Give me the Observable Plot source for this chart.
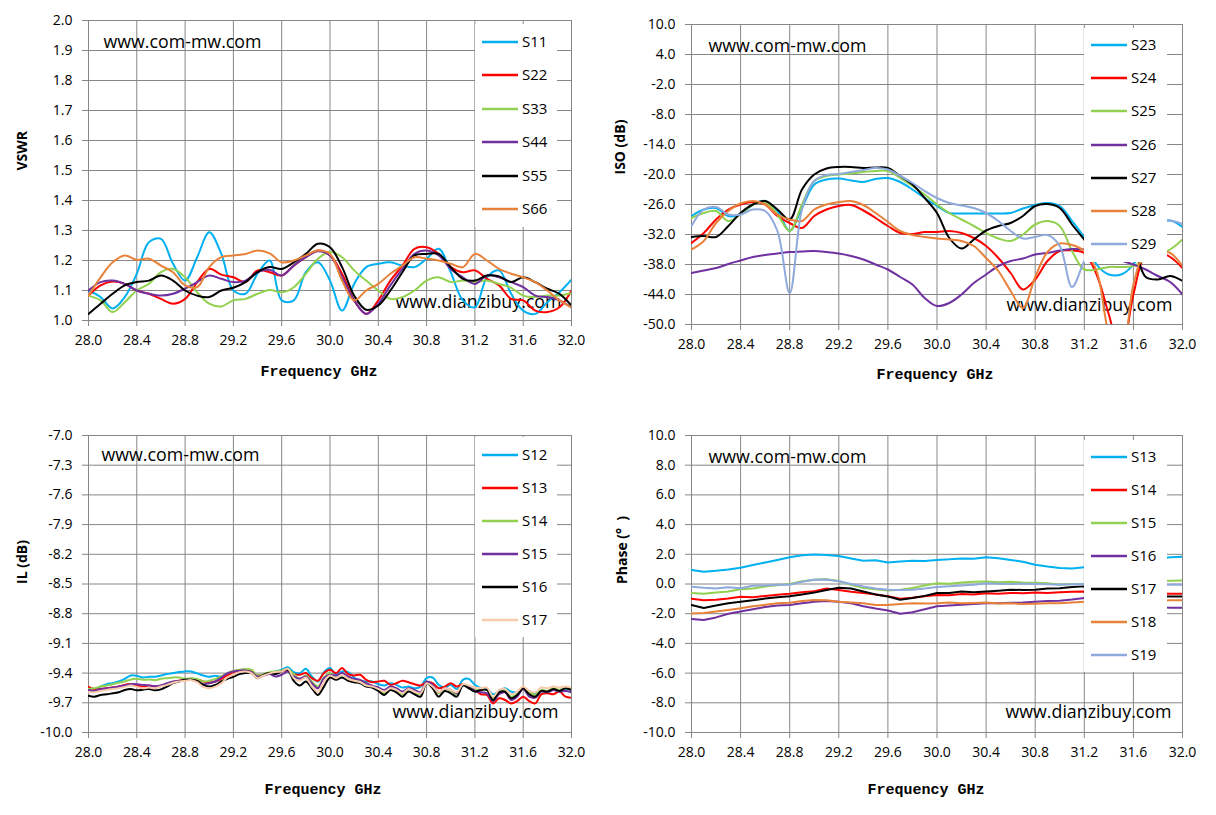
<!DOCTYPE html>
<html><head><meta charset="utf-8">
<script src="https://cdn.jsdelivr.net/npm/d3@7"></script>
<script src="https://cdn.jsdelivr.net/npm/@observablehq/plot@0.6"></script>
<style>
body{margin:0;background:#fff;}
#wrap{position:relative;width:1216px;height:815px;overflow:hidden;background:#fff;font-family:"Open Sans",sans-serif;}
.legend{position:absolute;background:#fff;}
.item{position:absolute;height:20px;}
.item svg{position:absolute;left:0;top:0;}
.item span{position:absolute;top:-1px;font-size:15px;line-height:20px;color:#000;white-space:nowrap;}
</style></head><body><div id="wrap"></div>
<script>
// ---------- shared axes ----------
const freq = [28.0,28.1,28.2,28.3,28.4,28.5,28.6,28.7,28.8,28.9,29.0,29.1,29.2,29.3,29.4,29.5,29.6,29.7,29.8,29.9,30.0,30.1,30.2,30.3,30.4,30.5,30.6,30.7,30.8,30.9,31.0,31.1,31.2,31.3,31.4,31.5,31.6,31.7,31.8,31.9,32.0];
const freqFine = [28.00,28.05,28.10,28.15,28.20,28.25,28.30,28.35,28.40,28.45,28.50,28.55,28.60,28.65,28.70,28.75,28.80,28.85,28.90,28.95,29.00,29.05,29.10,29.15,29.20,29.25,29.30,29.35,29.40,29.45,29.50,29.55,29.60,29.65,29.70,29.75,29.80,29.85,29.90,29.95,30.00,30.05,30.10,30.15,30.20,30.25,30.30,30.35,30.40,30.45,30.50,30.55,30.60,30.65,30.70,30.75,30.80,30.85,30.90,30.95,31.00,31.05,31.10,31.15,31.20,31.25,31.30,31.35,31.40,31.45,31.50,31.55,31.60,31.65,31.70,31.75,31.80,31.85,31.90,31.95,32.00];
const xTicks = [28.0,28.4,28.8,29.2,29.6,30.0,30.4,30.8,31.2,31.6,32.0];
const xLabel = "Frequency GHz";

// ---------- panel 1 : VSWR ----------
const vswrTicks = [1.0,1.1,1.2,1.3,1.4,1.5,1.6,1.7,1.8,1.9,2.0];
const vswrNames = ["S11","S22","S33","S44","S55","S66"];
const S11 = [1.10,1.078,1.04,1.078,1.156,1.261,1.272,1.189,1.133,1.211,1.294,1.222,1.10,1.089,1.156,1.20,1.067,1.067,1.161,1.194,1.133,1.033,1.122,1.178,1.189,1.194,1.183,1.178,1.206,1.239,1.161,1.067,1.044,1.144,1.167,1.089,1.033,1.022,1.061,1.094,1.136];
const S22 = [1.083,1.117,1.13,1.122,1.10,1.089,1.072,1.056,1.072,1.128,1.172,1.153,1.144,1.128,1.167,1.161,1.15,1.183,1.211,1.233,1.217,1.156,1.067,1.022,1.067,1.133,1.183,1.239,1.244,1.222,1.178,1.161,1.167,1.139,1.117,1.072,1.067,1.033,1.028,1.044,1.10];
const S33 = [1.083,1.067,1.028,1.061,1.10,1.122,1.161,1.172,1.144,1.094,1.056,1.047,1.067,1.072,1.089,1.102,1.094,1.111,1.156,1.206,1.228,1.211,1.167,1.133,1.10,1.072,1.078,1.10,1.133,1.144,1.128,1.133,1.128,1.133,1.122,1.109,1.083,1.078,1.083,1.083,1.091];
const S44 = [1.10,1.128,1.133,1.122,1.10,1.089,1.083,1.089,1.106,1.128,1.15,1.139,1.128,1.133,1.161,1.169,1.15,1.183,1.211,1.231,1.217,1.144,1.067,1.022,1.056,1.117,1.172,1.222,1.233,1.217,1.172,1.144,1.122,1.15,1.144,1.128,1.111,1.083,1.078,1.067,1.044];
const S55 = [1.022,1.056,1.089,1.117,1.128,1.133,1.15,1.133,1.10,1.083,1.078,1.10,1.109,1.128,1.161,1.178,1.172,1.194,1.222,1.256,1.244,1.178,1.083,1.036,1.05,1.10,1.161,1.217,1.222,1.222,1.178,1.139,1.133,1.15,1.147,1.128,1.144,1.128,1.106,1.089,1.05];
const S66 = [1.083,1.144,1.194,1.217,1.202,1.206,1.183,1.161,1.117,1.111,1.178,1.211,1.217,1.222,1.233,1.224,1.194,1.20,1.217,1.233,1.222,1.133,1.067,1.10,1.122,1.156,1.183,1.211,1.206,1.20,1.189,1.178,1.222,1.20,1.172,1.156,1.144,1.128,1.10,1.067,1.044];

// ---------- panel 2 : ISO ----------
const isoTicks = [-50,-44,-38,-32,-26,-20,-14,-8,-2,4,10];
const isoNames = ["S23","S24","S25","S26","S27","S28","S29"];
const S23 = [-28.3,-27.0,-26.7,-28.3,-28.0,-26.0,-25.3,-27.3,-31.3,-26.7,-22.0,-21.0,-20.8,-21.2,-21.5,-20.9,-20.7,-21.5,-23.0,-24.7,-26.3,-27.7,-27.8,-27.8,-27.8,-27.8,-27.7,-26.8,-26.1,-25.7,-26.3,-29.3,-32.7,-38.0,-40.0,-40.0,-38.0,-33.0,-30.0,-29.2,-30.5];
const S24 = [-33.7,-31.7,-29.0,-27.0,-26.0,-25.5,-26.0,-28.3,-29.7,-30.7,-28.3,-27.0,-26.3,-26.1,-27.2,-28.7,-30.3,-31.7,-31.9,-31.5,-31.5,-31.3,-31.7,-32.7,-34.3,-36.7,-39.7,-43.0,-41.0,-37.3,-35.3,-35.2,-35.7,-40.0,-48.0,-56.0,-44.0,-36.0,-35.5,-36.5,-38.7];
const S25 = [-28.7,-27.7,-27.3,-29.3,-28.0,-26.0,-25.5,-28.0,-31.3,-26.0,-21.3,-20.3,-20.0,-19.8,-19.5,-19.3,-19.3,-20.7,-22.3,-24.0,-26.0,-27.7,-29.0,-30.3,-31.7,-32.8,-33.3,-32.0,-30.0,-29.3,-30.3,-35.3,-39.0,-39.0,-38.5,-38.5,-38.3,-37.0,-36.0,-35.0,-33.0];
const S26 = [-39.7,-39.2,-38.7,-37.9,-37.2,-36.5,-36.1,-35.8,-35.5,-35.4,-35.3,-35.5,-35.8,-36.3,-37.0,-38.0,-39.0,-40.5,-42.0,-44.7,-46.3,-45.7,-44.0,-41.7,-40.0,-38.3,-37.3,-36.8,-36.0,-35.7,-35.2,-34.9,-35.0,-35.8,-36.5,-37.2,-38.0,-39.0,-40.3,-41.5,-44.0];
const S27 = [-32.5,-32.3,-32.5,-30.3,-27.7,-26.0,-25.3,-27.0,-29.0,-23.0,-20.0,-18.8,-18.5,-18.5,-18.7,-18.6,-18.7,-20.3,-22.0,-24.7,-27.7,-32.7,-34.8,-33.0,-31.2,-30.3,-29.7,-28.3,-26.3,-25.9,-26.7,-30.0,-33.0,-36.0,-36.5,-36.0,-35.5,-40.5,-41.0,-40.3,-41.3];
const S28 = [-35.0,-33.3,-29.7,-27.3,-25.8,-25.3,-26.0,-28.0,-29.0,-29.3,-27.0,-26.0,-25.5,-25.3,-26.1,-27.7,-29.5,-31.3,-32.1,-32.5,-32.8,-33.0,-33.3,-34.3,-36.7,-39.3,-43.3,-46.7,-40.5,-35.5,-33.8,-34.1,-35.3,-39.3,-52.0,-58.0,-42.0,-35.5,-35.3,-35.7,-38.3];
const S29 = [-30.3,-27.0,-26.5,-28.0,-28.0,-27.0,-27.3,-31.3,-43.7,-27.0,-21.3,-20.1,-19.9,-19.5,-19.1,-18.7,-19.0,-20.3,-21.7,-23.3,-24.7,-25.7,-26.2,-26.7,-27.7,-29.3,-31.3,-32.8,-32.5,-32.1,-34.3,-42.5,-37.3,-33.0,-31.0,-30.0,-29.5,-29.3,-29.2,-29.2,-29.9];

// ---------- panel 3 : IL ----------
const ilTicks = [-10.0,-9.7,-9.4,-9.1,-8.8,-8.5,-8.2,-7.9,-7.6,-7.3,-7.0];
const ilNames = ["S12","S13","S14","S15","S16","S17"];
const IL12 = [-9.546,-9.564,-9.536,-9.512,-9.502,-9.485,-9.458,-9.424,-9.427,-9.444,-9.437,-9.437,-9.424,-9.41,-9.40,-9.39,-9.383,-9.383,-9.403,-9.424,-9.437,-9.427,-9.437,-9.40,-9.383,-9.373,-9.369,-9.383,-9.431,-9.417,-9.397,-9.383,-9.366,-9.342,-9.39,-9.40,-9.356,-9.434,-9.485,-9.39,-9.349,-9.417,-9.383,-9.39,-9.444,-9.478,-9.485,-9.485,-9.512,-9.526,-9.502,-9.519,-9.546,-9.536,-9.553,-9.536,-9.451,-9.444,-9.519,-9.546,-9.519,-9.56,-9.468,-9.458,-9.519,-9.553,-9.56,-9.614,-9.58,-9.553,-9.587,-9.594,-9.553,-9.58,-9.604,-9.58,-9.587,-9.57,-9.57,-9.56,-9.57];
const IL13 = [-9.539,-9.564,-9.56,-9.553,-9.546,-9.536,-9.519,-9.509,-9.526,-9.536,-9.526,-9.536,-9.526,-9.512,-9.492,-9.478,-9.468,-9.461,-9.464,-9.485,-9.495,-9.485,-9.458,-9.424,-9.39,-9.376,-9.373,-9.383,-9.424,-9.417,-9.40,-9.39,-9.383,-9.369,-9.41,-9.417,-9.40,-9.451,-9.478,-9.40,-9.366,-9.40,-9.349,-9.41,-9.424,-9.417,-9.468,-9.492,-9.485,-9.478,-9.519,-9.502,-9.478,-9.492,-9.512,-9.526,-9.492,-9.502,-9.553,-9.536,-9.502,-9.536,-9.512,-9.536,-9.57,-9.614,-9.621,-9.706,-9.655,-9.672,-9.706,-9.682,-9.638,-9.682,-9.706,-9.614,-9.604,-9.614,-9.587,-9.638,-9.648];
const IL14 = [-9.56,-9.553,-9.536,-9.526,-9.512,-9.498,-9.485,-9.464,-9.458,-9.468,-9.464,-9.471,-9.458,-9.451,-9.444,-9.444,-9.458,-9.451,-9.458,-9.485,-9.478,-9.458,-9.434,-9.40,-9.376,-9.366,-9.359,-9.366,-9.424,-9.41,-9.39,-9.383,-9.376,-9.356,-9.41,-9.458,-9.424,-9.485,-9.536,-9.444,-9.40,-9.444,-9.41,-9.451,-9.478,-9.485,-9.519,-9.536,-9.57,-9.604,-9.553,-9.57,-9.614,-9.56,-9.587,-9.614,-9.492,-9.536,-9.604,-9.553,-9.58,-9.614,-9.519,-9.536,-9.57,-9.57,-9.57,-9.655,-9.594,-9.58,-9.638,-9.614,-9.553,-9.594,-9.621,-9.57,-9.58,-9.553,-9.57,-9.553,-9.56];
const IL15 = [-9.57,-9.58,-9.564,-9.553,-9.546,-9.536,-9.526,-9.512,-9.512,-9.519,-9.526,-9.532,-9.526,-9.502,-9.485,-9.478,-9.468,-9.468,-9.485,-9.512,-9.502,-9.485,-9.444,-9.403,-9.383,-9.376,-9.373,-9.39,-9.434,-9.424,-9.41,-9.434,-9.417,-9.383,-9.434,-9.458,-9.434,-9.502,-9.553,-9.451,-9.417,-9.424,-9.40,-9.434,-9.458,-9.468,-9.502,-9.526,-9.546,-9.57,-9.536,-9.553,-9.587,-9.553,-9.57,-9.594,-9.485,-9.519,-9.594,-9.553,-9.57,-9.604,-9.519,-9.536,-9.58,-9.594,-9.604,-9.682,-9.614,-9.594,-9.672,-9.638,-9.56,-9.638,-9.648,-9.587,-9.594,-9.57,-9.587,-9.58,-9.594];
const IL16 = [-9.628,-9.638,-9.621,-9.614,-9.604,-9.594,-9.57,-9.56,-9.574,-9.567,-9.56,-9.574,-9.564,-9.536,-9.502,-9.485,-9.468,-9.468,-9.478,-9.519,-9.536,-9.519,-9.485,-9.458,-9.437,-9.41,-9.40,-9.40,-9.451,-9.417,-9.40,-9.41,-9.383,-9.366,-9.478,-9.526,-9.485,-9.553,-9.621,-9.536,-9.444,-9.468,-9.444,-9.478,-9.492,-9.502,-9.536,-9.546,-9.58,-9.621,-9.57,-9.594,-9.638,-9.587,-9.614,-9.638,-9.502,-9.553,-9.638,-9.58,-9.604,-9.638,-9.526,-9.553,-9.587,-9.57,-9.57,-9.672,-9.594,-9.587,-9.655,-9.621,-9.553,-9.614,-9.638,-9.58,-9.587,-9.56,-9.58,-9.553,-9.57];
const IL17 = [-9.594,-9.594,-9.58,-9.57,-9.56,-9.553,-9.539,-9.526,-9.539,-9.553,-9.546,-9.553,-9.536,-9.519,-9.498,-9.485,-9.478,-9.471,-9.492,-9.539,-9.553,-9.536,-9.502,-9.444,-9.417,-9.39,-9.383,-9.40,-9.451,-9.424,-9.403,-9.39,-9.383,-9.356,-9.451,-9.478,-9.444,-9.536,-9.587,-9.485,-9.424,-9.451,-9.417,-9.458,-9.478,-9.492,-9.526,-9.536,-9.56,-9.587,-9.553,-9.57,-9.604,-9.56,-9.587,-9.604,-9.502,-9.536,-9.594,-9.553,-9.57,-9.594,-9.512,-9.526,-9.546,-9.553,-9.546,-9.638,-9.57,-9.56,-9.614,-9.587,-9.536,-9.58,-9.594,-9.546,-9.553,-9.536,-9.546,-9.536,-9.546];

// ---------- panel 4 : Phase ----------
const phTicks = [-10,-8,-6,-4,-2,0,2,4,6,8,10];
const phNames = ["S13","S14","S15","S16","S17","S18","S19"];
const P13 = [0.95,0.82,0.90,0.98,1.10,1.28,1.45,1.62,1.80,1.93,1.98,1.95,1.88,1.72,1.57,1.60,1.45,1.52,1.57,1.55,1.62,1.66,1.72,1.70,1.80,1.74,1.62,1.50,1.30,1.18,1.08,1.05,1.13,1.20,1.30,1.40,1.50,1.60,1.70,1.80,1.83];
const P14 = [-1.0,-1.1,-1.06,-0.98,-0.86,-0.9,-0.8,-0.72,-0.65,-0.55,-0.48,-0.3,-0.4,-0.52,-0.61,-0.7,-0.82,-1.0,-0.92,-0.82,-0.74,-0.76,-0.68,-0.7,-0.62,-0.66,-0.6,-0.62,-0.58,-0.6,-0.55,-0.52,-0.5,-0.52,-0.55,-0.58,-0.6,-0.62,-0.64,-0.66,-0.66];
const P15 = [-0.61,-0.65,-0.58,-0.5,-0.35,-0.3,-0.17,-0.08,0.0,0.18,0.28,0.32,0.2,-0.05,-0.27,-0.35,-0.43,-0.38,-0.27,-0.1,0.05,0.02,0.1,0.15,0.17,0.12,0.15,0.1,0.08,0.05,-0.05,0.0,0.0,0.05,0.1,0.12,0.15,0.18,0.2,0.22,0.23];
const P16 = [-2.35,-2.42,-2.25,-2.0,-1.85,-1.7,-1.55,-1.45,-1.42,-1.3,-1.2,-1.15,-1.19,-1.3,-1.5,-1.65,-1.78,-2.0,-1.9,-1.7,-1.5,-1.45,-1.4,-1.35,-1.29,-1.3,-1.27,-1.25,-1.2,-1.15,-1.12,-1.05,-0.95,-1.1,-1.2,-1.3,-1.4,-1.5,-1.55,-1.6,-1.6];
const P17 = [-1.42,-1.62,-1.45,-1.3,-1.19,-1.1,-0.98,-0.9,-0.82,-0.7,-0.58,-0.4,-0.25,-0.3,-0.5,-0.7,-0.84,-1.06,-0.95,-0.8,-0.61,-0.6,-0.5,-0.55,-0.5,-0.45,-0.39,-0.4,-0.39,-0.3,-0.28,-0.2,-0.16,-0.3,-0.45,-0.55,-0.65,-0.75,-0.8,-0.85,-0.84];
const P18 = [-1.98,-1.95,-1.85,-1.75,-1.64,-1.5,-1.4,-1.3,-1.26,-1.15,-1.08,-1.1,-1.19,-1.25,-1.3,-1.42,-1.42,-1.35,-1.3,-1.32,-1.3,-1.25,-1.3,-1.28,-1.25,-1.32,-1.3,-1.35,-1.33,-1.3,-1.3,-1.25,-1.2,-1.2,-1.15,-1.15,-1.1,-1.1,-1.12,-1.1,-1.1];
const P19 = [-0.18,-0.25,-0.3,-0.22,-0.29,-0.12,-0.1,-0.05,-0.05,0.15,0.28,0.3,0.18,0.0,-0.17,-0.3,-0.39,-0.4,-0.38,-0.3,-0.2,-0.15,-0.1,-0.05,0.05,0.02,0.0,0.02,0.0,-0.02,-0.05,-0.02,0.0,-0.05,-0.1,-0.1,-0.1,-0.08,-0.05,-0.05,-0.05];

// ---------- colours ----------
const cBlue = "#00B0F0", cRed = "#FF0000", cGreen = "#92D050", cPurple = "#7030A0",
      cBlack = "#000000", cOrange = "#E8823A", cSteel = "#8EA9DB", cPeach = "#F8CBAD";

const grid = "#868686";
const fmt = d => d.toFixed(1);

function makePanel(cfg) {
  const rows = [];
  cfg.names.forEach((n, i) => cfg.values[i].forEach((v, j) => rows.push({f: cfg.freq[j], v, s: n})));
  const svg = Plot.plot({
    width: cfg.width, height: cfg.height,
    marginLeft: cfg.m[0], marginRight: cfg.m[1], marginTop: cfg.m[2], marginBottom: cfg.m[3],
    x: {domain: [28, 32]},
    y: {domain: cfg.yDomain},
    color: {domain: cfg.names, range: cfg.colors},
    style: {fontFamily: "'Open Sans', sans-serif", fontSize: "14px", color: "#000", background: "transparent", overflow: "visible"},
    marks: [
      Plot.gridX(xTicks, {stroke: grid, strokeOpacity: 1}),
      Plot.gridY(cfg.yTicks, {stroke: grid, strokeOpacity: 1}),
      Plot.axisX(xTicks, {tickSize: 6, tickPadding: 9, tickFormat: fmt, stroke: grid, fill: "#000", label: null}),
      Plot.axisY(cfg.yTicks, {tickSize: 6, tickPadding: 10, tickFormat: fmt, stroke: grid, fill: "#000", label: null}),
      Plot.text(["www.com-mw.com"], {frameAnchor: "top-left", textAnchor: "start", dx: cfg.wm1[0], dy: cfg.wm1[1], fontSize: 17.8, fill: "#000"}),
      Plot.text(["www.dianzibuy.com"], {frameAnchor: "bottom-left", textAnchor: "start", dx: cfg.wm2[0], dy: cfg.wm2[1], fontSize: 17.8, fill: "#000"}),
      Plot.line(rows, {x: "f", y: "v", z: "s", stroke: "s", strokeWidth: cfg.sw, curve: cfg.curve, clip: true}),
      Plot.text([xLabel], {frameAnchor: "bottom", dx: cfg.xl[0], dy: cfg.xl[1], fontFamily: "'Liberation Mono', monospace", fontWeight: "bold", fontSize: 15, fill: "#000"}),
      Plot.text([cfg.yLabel], {frameAnchor: "left", rotate: -90, dx: cfg.yl, fontWeight: "bold", fontSize: 14, fill: "#000"})
    ]
  });
  svg.style.position = "absolute";
  svg.style.left = cfg.left + "px";
  svg.style.top = cfg.top + "px";
  document.getElementById("wrap").appendChild(svg);

  // legend box drawn over the plot area (as in the original)
  const lg = document.createElement("div");
  lg.className = "legend";
  lg.style.left = cfg.lg.x + "px"; lg.style.top = cfg.lg.y + "px";
  lg.style.width = cfg.lg.w + "px"; lg.style.height = cfg.lg.h + "px";
  cfg.names.forEach((n, i) => {
    const it = document.createElement("div");
    it.className = "item";
    it.style.left = "7px";
    it.style.top = (cfg.lg.first - cfg.lg.y - 10 + i * cfg.lg.step) + "px";
    it.style.width = "80px";
    it.innerHTML = `<svg width="40" height="20"><line x1="0" x2="36" y1="10" y2="10" stroke="${cfg.colors[i]}" stroke-width="2.5"/></svg><span style="left:40px">${n}</span>`;
    lg.appendChild(it);
  });
  document.getElementById("wrap").appendChild(lg);
}

makePanel({
  left: 0, top: 0, width: 600, height: 400, m: [88, 29, 20, 80],
  freq, names: vswrNames, values: [S11, S22, S33, S44, S55, S66],
  colors: [cBlue, cRed, cGreen, cPurple, cBlack, cOrange],
  yDomain: [1.0, 2.0], yTicks: vswrTicks, yLabel: "VSWR", yl: -66,
  xl: [-11, 55], wm1: [15, 15], wm2: [307, -13], sw: 2, curve: "catmull-rom",
  lg: {x: 475, y: 24, w: 82, h: 203, first: 42, step: 33.4}
});
makePanel({
  left: 600, top: 0, width: 616, height: 400, m: [91, 34, 24, 76],
  freq, names: isoNames, values: [S23, S24, S25, S26, S27, S28, S29],
  colors: [cBlue, cRed, cGreen, cPurple, cBlack, cOrange, cSteel],
  yDomain: [-50, 10], yTicks: isoTicks, yLabel: "ISO (dB)", yl: -71,
  xl: [-2, 54], wm1: [17, 15], wm2: [315, -14], sw: 2, curve: "catmull-rom",
  lg: {x: 1084, y: 28, w: 83, h: 234, first: 45, step: 33.2}
});
makePanel({
  left: 0, top: 410, width: 600, height: 405, m: [88, 29, 25, 83],
  freq: freqFine, names: ilNames, values: [IL12, IL13, IL14, IL15, IL16, IL17],
  colors: [cBlue, cRed, cGreen, cPurple, cBlack, cPeach],
  yDomain: [-10, -7], yTicks: ilTicks, yLabel: "IL (dB)", yl: -66,
  xl: [-7, 61], wm1: [13, 13], wm2: [304, -15], sw: 2, curve: "catmull-rom",
  lg: {x: 475, y: 437, w: 82, h: 200, first: 455, step: 33}
});
makePanel({
  left: 600, top: 410, width: 616, height: 405, m: [91, 34, 25, 83],
  freq, names: phNames, values: [P13, P14, P15, P16, P17, P18, P19],
  colors: [cBlue, cRed, cGreen, cPurple, cBlack, cOrange, cSteel],
  yDomain: [-10, 10], yTicks: phTicks, yLabel: "Phase (°  )", yl: -69,
  xl: [-11, 61], wm1: [17, 15], wm2: [314, -15], sw: 2, curve: "linear",
  lg: {x: 1084, y: 440, w: 83, h: 232, first: 457, step: 33}
});
</script></body></html>
